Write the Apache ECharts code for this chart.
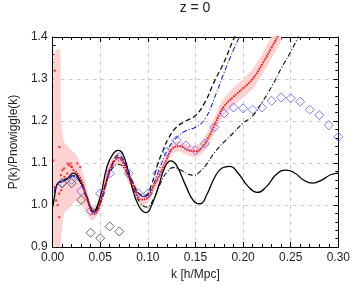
<!DOCTYPE html>
<html><head><meta charset="utf-8">
<script src="https://cdn.jsdelivr.net/npm/echarts@6/dist/echarts.min.js"></script>
<style>html,body{margin:0;padding:0;background:#fff}#c{width:353px;height:286px}</style>
</head><body><div id="c"></div>
<script>
var xTicks = [0, 0.05, 0.10, 0.15, 0.20, 0.25, 0.30];
var yTicks = [0.9, 1.0, 1.1, 1.2, 1.3, 1.4];

var solidK = [0,0.002,0.004,0.006,0.01,0.015,0.022,0.028,0.035,0.043,0.05,0.057,0.063,0.069,0.075,0.082,0.09,0.098,0.105,0.112,0.118,0.124,0.13,0.14,0.148,0.155,0.162,0.17,0.178,0.186,0.195,0.205,0.215,0.225,0.235,0.245,0.255,0.263,0.273,0.283,0.292,0.3];
var solidV = [0.995,1.02,1.045,1.053,1.056,1.062,1.076,1.062,1.025,0.985,1.02,1.09,1.12,1.13,1.115,1.055,1.0,0.982,1.005,1.05,1.09,1.105,1.095,1.045,1.01,1.003,1.025,1.065,1.088,1.092,1.075,1.045,1.03,1.045,1.073,1.083,1.075,1.06,1.052,1.06,1.072,1.076];

var dashDotK = [0.002,0.005,0.01,0.016,0.022,0.03,0.036,0.043,0.05,0.057,0.063,0.069,0.076,0.084,0.092,0.099,0.106,0.113,0.12,0.127,0.135,0.142,0.148,0.155,0.162,0.17,0.18,0.19,0.2,0.21,0.22,0.23,0.24,0.25,0.26];
var dashDotV = [1.03,1.05,1.056,1.062,1.068,1.05,1.02,0.99,1.01,1.06,1.088,1.097,1.085,1.045,1.005,0.995,1.015,1.05,1.078,1.089,1.083,1.074,1.071,1.08,1.098,1.125,1.15,1.172,1.195,1.212,1.245,1.282,1.325,1.365,1.41];

var dashedK = [0.002,0.005,0.01,0.016,0.022,0.03,0.036,0.043,0.05,0.057,0.063,0.069,0.076,0.084,0.092,0.097,0.104,0.11,0.116,0.122,0.13,0.14,0.15,0.16,0.17,0.18,0.191,0.2];
var dashedV = [1.03,1.05,1.058,1.064,1.07,1.05,1.015,0.985,1.005,1.06,1.1,1.118,1.1,1.055,1.025,1.022,1.05,1.095,1.13,1.16,1.185,1.2,1.213,1.245,1.295,1.34,1.40,1.44];

var blueK = [0.002,0.005,0.01,0.016,0.022,0.03,0.036,0.043,0.05,0.057,0.063,0.069,0.076,0.084,0.092,0.098,0.105,0.112,0.12,0.13,0.14,0.15,0.16,0.17,0.18,0.19,0.196,0.2];
var blueV = [1.03,1.05,1.056,1.063,1.07,1.05,1.015,0.982,1.003,1.055,1.095,1.113,1.098,1.055,1.022,1.02,1.045,1.085,1.128,1.16,1.177,1.185,1.205,1.255,1.315,1.37,1.40,1.42];

var redK = [0.024,0.03,0.035,0.04,0.043,0.047,0.05,0.055,0.06,0.065,0.069,0.075,0.08,0.086,0.093,0.1,0.106,0.113,0.12,0.126,0.133,0.143,0.15,0.156,0.163,0.17,0.175,0.18,0.19,0.2,0.21,0.22,0.23,0.236,0.24];
var redV = [1.08,1.06,1.025,0.99,0.978,0.985,1.005,1.045,1.085,1.105,1.112,1.095,1.065,1.04,1.013,1.017,1.043,1.075,1.11,1.135,1.14,1.13,1.128,1.135,1.158,1.19,1.215,1.235,1.258,1.278,1.3,1.335,1.375,1.40,1.415];

var redScatK = [0.0007,0.002,0.0023,0.0037,0.0053,0.007,0.007,0.0073,0.0087,0.009,0.0103,0.012,0.0125,0.0154,0.0157,0.017,0.0188,0.0195,0.0204,0.022,0.026,0.029];
var redScatV = [1.106,1.043,1.32,1.011,1.0,1.027,0.971,1.138,1.071,1.035,1.083,1.087,1.067,1.075,1.099,1.095,1.099,1.092,1.09,1.083,1.099,1.09];

var bandK = [0.001,0.004,0.008,0.009,0.012,0.016,0.02,0.025,0.03,0.035,0.04,0.043,0.047,0.05,0.055,0.06,0.065,0.069,0.075,0.08,0.086,0.093,0.1,0.106,0.113,0.12,0.126,0.133,0.143,0.15,0.156,0.163,0.17,0.175,0.18,0.19,0.2,0.21,0.22,0.23,0.24];
var bandLo = [0.90,0.90,0.90,0.92,0.98,0.99,1.0,1.01,1.0,0.985,0.965,0.965,0.975,0.99,1.03,1.07,1.09,1.10,1.08,1.05,1.03,1.0,1.005,1.03,1.062,1.098,1.122,1.128,1.117,1.114,1.12,1.14,1.17,1.195,1.215,1.237,1.255,1.276,1.31,1.35,1.39];
var bandHi = [1.35,1.37,1.37,1.2,1.15,1.14,1.13,1.12,1.09,1.05,1.0,0.995,1.005,1.025,1.065,1.10,1.12,1.125,1.105,1.075,1.055,1.025,1.03,1.055,1.088,1.122,1.148,1.152,1.143,1.142,1.15,1.175,1.21,1.235,1.255,1.28,1.30,1.324,1.36,1.40,1.44];

var diamBlueK = [0.01,0.02,0.03,0.04,0.05,0.06,0.07,0.08,0.09,0.10,0.11,0.12,0.13,0.14,0.15,0.16,0.17,0.18,0.19,0.20,0.21,0.22,0.23,0.24,0.25,0.26,0.27,0.28,0.29,0.30];
var diamBlueV = [1.052,1.06,1.033,0.986,1.027,1.075,1.114,1.075,1.028,1.027,1.075,1.127,1.154,1.142,1.13,1.146,1.185,1.218,1.232,1.23,1.227,1.232,1.248,1.256,1.254,1.246,1.227,1.214,1.19,1.162];

var diamBlackK = [0.01,0.02,0.03,0.04,0.05,0.06,0.07];
var diamBlackV = [1.052,1.052,1.012,0.934,0.921,0.949,0.937];

function pairs(k, v) { return k.map(function (x, i) { return [x, v[i]]; }); }

var yMin = yTicks[0], yMax = yTicks[yTicks.length - 1];
function clampY(v) { return Math.max(yMin, Math.min(yMax, v)); }

var font = 'Liberation Sans, Arial, sans-serif';
var chart = echarts.init(document.getElementById('c'), null, {renderer: 'canvas'});
var axisCommon = {
  type: 'value',
  axisLine: {show: true, onZero: false, lineStyle: {color: '#000', width: 1}},
  axisTick: {show: true, inside: true, length: 5, lineStyle: {color: '#000'}},
  minorTick: {show: true, splitNumber: 5, length: 3, lineStyle: {color: '#000'}},
  splitLine: {show: false}
};
function ax(extra) { return Object.assign({}, JSON.parse(JSON.stringify(axisCommon)), extra); }

var option = {
  animation: false,
  backgroundColor: '#fff',
  title: {text: 'z = 0', left: 190, top: -4, textAlign: 'center',
    textStyle: {fontFamily: font, fontSize: 14, fontWeight: 'normal', color: '#222'}},
  grid: {left: 41, right: 13, top: 37, bottom: 39},
  xAxis: [
    ax({position: 'bottom', min: xTicks[0], max: xTicks[xTicks.length - 1], interval: 0.05,
      name: 'k [h/Mpc]', nameLocation: 'middle', nameGap: 19,
      nameTextStyle: {fontFamily: font, fontSize: 12, color: '#222'},
      axisLabel: {margin: 5, fontFamily: font, fontSize: 12, color: '#222', formatter: function (v) { return v.toFixed(2); }},
      splitLine: {show: true, lineStyle: {color: '#ccc', type: [4, 4], width: 1}}}),
    ax({position: 'top', min: xTicks[0], max: xTicks[xTicks.length - 1], interval: 0.05, axisLabel: {show: false}})
  ],
  yAxis: [
    ax({position: 'left', min: yMin, max: yMax, interval: 0.1,
      name: 'P(k)/Pnowiggle(k)', nameLocation: 'middle', nameGap: 27,
      nameTextStyle: {fontFamily: font, fontSize: 12, color: '#222'},
      axisLabel: {margin: 5, fontFamily: font, fontSize: 12, color: '#222', formatter: function (v) { return v.toFixed(1); }},
      splitLine: {show: true, lineStyle: {color: '#ccc', type: [4, 4], width: 1}}}),
    ax({position: 'right', min: yMin, max: yMax, interval: 0.1, axisLabel: {show: false}})
  ],
  series: [
    {type: 'custom', silent: true, z: 1,
      data: bandK.map(function (x, i) { return [x, bandLo[i], bandHi[i]]; }),
      encode: {x: 0, y: [1, 2]},
      renderItem: function (params, api) {
        if (params.dataIndex !== 0) return null;
        var pts = [];
        for (var i = 0; i < bandK.length; i++) pts.push(api.coord([bandK[i], clampY(bandHi[i])]));
        for (var j = bandK.length - 1; j >= 0; j--) pts.push(api.coord([bandK[j], clampY(bandLo[j])]));
        return {type: 'polygon', shape: {points: pts, smooth: 0.2}, style: {fill: '#ffd2d2', stroke: null}};
      }},
    {type: 'line', data: pairs(solidK, solidV), symbol: 'none', smooth: 0.5, z: 3,
      lineStyle: {color: '#000', width: 1.3}},
    {type: 'line', data: pairs(dashDotK, dashDotV), symbol: 'none', smooth: 0.5, z: 3,
      lineStyle: {color: '#111', width: 1.1, type: [5, 2, 1, 2]}},
    {type: 'line', data: pairs(dashedK, dashedV), symbol: 'none', smooth: 0.5, z: 3,
      lineStyle: {color: '#111', width: 1.3, type: [5, 3]}},
    {type: 'line', data: pairs(blueK, blueV), symbol: 'none', smooth: 0.5, z: 3,
      lineStyle: {color: '#2020e0', width: 1.1, type: [5, 2, 1, 2]}},
    {type: 'line', data: pairs(redK, redV), symbol: 'none', smooth: 0.5, z: 3,
      lineStyle: {color: '#ff0000', width: 1.8, type: [1.5, 1]}},
    {type: 'scatter', data: pairs(redScatK, redScatV), symbol: 'rect', symbolSize: 2, z: 3,
      itemStyle: {color: '#ff0000'}},
    {type: 'scatter', data: pairs(diamBlueK, diamBlueV), symbol: 'diamond', symbolSize: 9, z: 4,
      itemStyle: {color: 'rgba(0,0,0,0)', borderColor: '#5a5aff', borderWidth: 1}},
    {type: 'scatter', data: pairs(diamBlackK, diamBlackV), symbol: 'diamond', symbolSize: 9, z: 4,
      itemStyle: {color: 'rgba(0,0,0,0)', borderColor: '#444', borderWidth: 1}}
  ]
};
chart.setOption(option);
</script></body></html>
